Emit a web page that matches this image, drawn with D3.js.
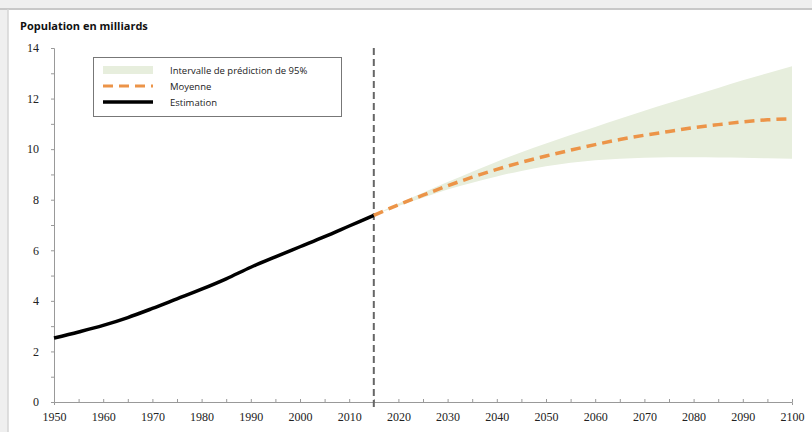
<!DOCTYPE html>
<html>
<head>
<meta charset="utf-8">
<script src="https://cdn.jsdelivr.net/npm/d3@7"></script>
<style>
  html, body { margin: 0; padding: 0; background: #efefef; }
  svg { display: block; }
</style>
</head>
<body>
<svg id="chart" width="812" height="432"></svg>
<script>
// World population, 1950–2015 estimates and 2015–2100 projection (billions)
const estYears = [1950, 1955, 1960, 1965, 1970, 1975, 1980, 1985, 1990, 1995, 2000, 2005, 2010, 2015];
const estValues = [2.53, 2.77, 3.03, 3.34, 3.70, 4.08, 4.46, 4.87, 5.33, 5.74, 6.14, 6.54, 6.96, 7.38];

const projYears = [2015, 2020, 2025, 2030, 2035, 2040, 2045, 2050, 2055, 2060, 2065, 2070, 2075, 2080, 2085, 2090, 2095, 2100];
const projMean  = [7.38, 7.80, 8.18, 8.55, 8.89, 9.20, 9.48, 9.73, 9.96, 10.18, 10.38, 10.55, 10.70, 10.85, 10.97, 11.08, 11.16, 11.20];
const projLow   = [7.38, 7.75, 8.08, 8.40, 8.67, 8.92, 9.14, 9.32, 9.46, 9.56, 9.62, 9.66, 9.68, 9.68, 9.67, 9.66, 9.64, 9.62];
const projHigh  = [7.38, 7.85, 8.28, 8.70, 9.11, 9.50, 9.88, 10.22, 10.56, 10.88, 11.20, 11.52, 11.82, 12.12, 12.42, 12.72, 13.00, 13.28];

const yTicks = [0, 2, 4, 6, 8, 10, 12, 14];
const xTicks = [1950, 1960, 1970, 1980, 1990, 2000, 2010, 2020, 2030, 2040, 2050, 2060, 2070, 2080, 2090, 2100];
const baseYear = 2015;

const titleText = "Population en milliards";
const legendLabels = ["Intervalle de prédiction de 95%", "Moyenne", "Estimation"];

const svg = d3.select("#chart");

// white panel with a grey frame line along the top
svg.append("rect").attr("x", 8).attr("y", 9).attr("width", 812).attr("height", 432).attr("fill", "#ffffff");
svg.append("line").attr("x1", 0).attr("x2", 812).attr("y1", 9).attr("y2", 9).attr("stroke", "#c8c8c8").attr("stroke-width", 2);
svg.append("line").attr("x1", 8).attr("x2", 8).attr("y1", 9).attr("y2", 432).attr("stroke", "#d4d4d4").attr("stroke-width", 1.5);

const x = d3.scaleLinear().domain([1950, 2100]).range([54, 792]);
const y = d3.scaleLinear().domain([0, 14]).range([402, 48]);

const serif = "'Liberation Serif', 'DejaVu Serif', serif";
const sans = "'Open Sans', 'Noto Sans', sans-serif";

svg.append("text")
  .attr("x", 20).attr("y", 30)
  .attr("font-family", sans).attr("font-weight", 700).attr("font-size", 11)
  .attr("fill", "#111")
  .text(titleText);

// prediction band
const projData = projYears.map((yr, i) => ({ yr, mean: projMean[i], lo: projLow[i], hi: projHigh[i] }));
svg.append("path")
  .datum(projData)
  .attr("fill", "#e7eedd")
  .attr("d", d3.area().x(d => x(d.yr)).y0(d => y(d.lo)).y1(d => y(d.hi)).curve(d3.curveMonotoneX));

// axes
const yAxis = d3.axisLeft(y).tickValues(d3.range(0, 15, 1)).tickSize(3).tickFormat(d => yTicks.includes(d) ? d : "");
const gy = svg.append("g").attr("transform", `translate(${x(1950)},0)`).call(yAxis);
const xAxis = d3.axisBottom(x).tickValues(d3.range(1950, 2101, 5)).tickSize(3).tickFormat(d => xTicks.includes(d) ? d : "");
const gx = svg.append("g").attr("transform", `translate(0,${y(0)})`).call(xAxis);

[gx, gy].forEach(g => {
  g.select(".domain").attr("stroke", "#999").attr("stroke-width", 1);
  g.selectAll(".tick line").attr("stroke", "#999");
  g.selectAll(".tick text").attr("font-family", serif).attr("font-size", 12).attr("fill", "#222");
});
gx.selectAll(".tick line").attr("y1", -3).attr("y2", 0);
gx.selectAll(".tick text").attr("y", 6).attr("dy", "1.05em");
gy.selectAll(".tick text").attr("x", -15);

// base-year divider
svg.append("line")
  .attr("x1", x(baseYear)).attr("x2", x(baseYear))
  .attr("y1", y(14)).attr("y2", y(0) + 6)
  .attr("stroke", "#666").attr("stroke-width", 2).attr("stroke-dasharray", "7,4");

// estimate line
const estData = estYears.map((yr, i) => ({ yr, v: estValues[i] }));
svg.append("path")
  .datum(estData)
  .attr("fill", "none").attr("stroke", "#000").attr("stroke-width", 3.5)
  .attr("d", d3.line().x(d => x(d.yr)).y(d => y(d.v)).curve(d3.curveMonotoneX));

// projected mean
svg.append("path")
  .datum(projData)
  .attr("fill", "none").attr("stroke", "#ec9448").attr("stroke-width", 3.5)
  .attr("stroke-dasharray", "10,6")
  .attr("d", d3.line().x(d => x(d.yr)).y(d => y(d.mean)).curve(d3.curveMonotoneX));

// legend
const lg = svg.append("g");
lg.append("rect").attr("x", 93.5).attr("y", 57.5).attr("width", 248).attr("height", 59)
  .attr("fill", "#fff").attr("stroke", "#777").attr("stroke-width", 1);
const rows = [70, 86, 102];
lg.append("rect").attr("x", 103).attr("y", rows[0] - 4).attr("width", 50).attr("height", 8).attr("fill", "#e7eedd");
lg.append("line").attr("x1", 103).attr("x2", 153).attr("y1", rows[1]).attr("y2", rows[1])
  .attr("stroke", "#ec9448").attr("stroke-width", 3).attr("stroke-dasharray", "10,6");
lg.append("line").attr("x1", 103).attr("x2", 153).attr("y1", rows[2]).attr("y2", rows[2])
  .attr("stroke", "#000").attr("stroke-width", 3.5);
legendLabels.forEach((t, i) => {
  lg.append("text").attr("x", 170).attr("y", rows[i] + 3.5)
    .attr("font-family", sans).attr("font-size", 9.5).attr("fill", "#222").text(t);
});
</script>
</body>
</html>
